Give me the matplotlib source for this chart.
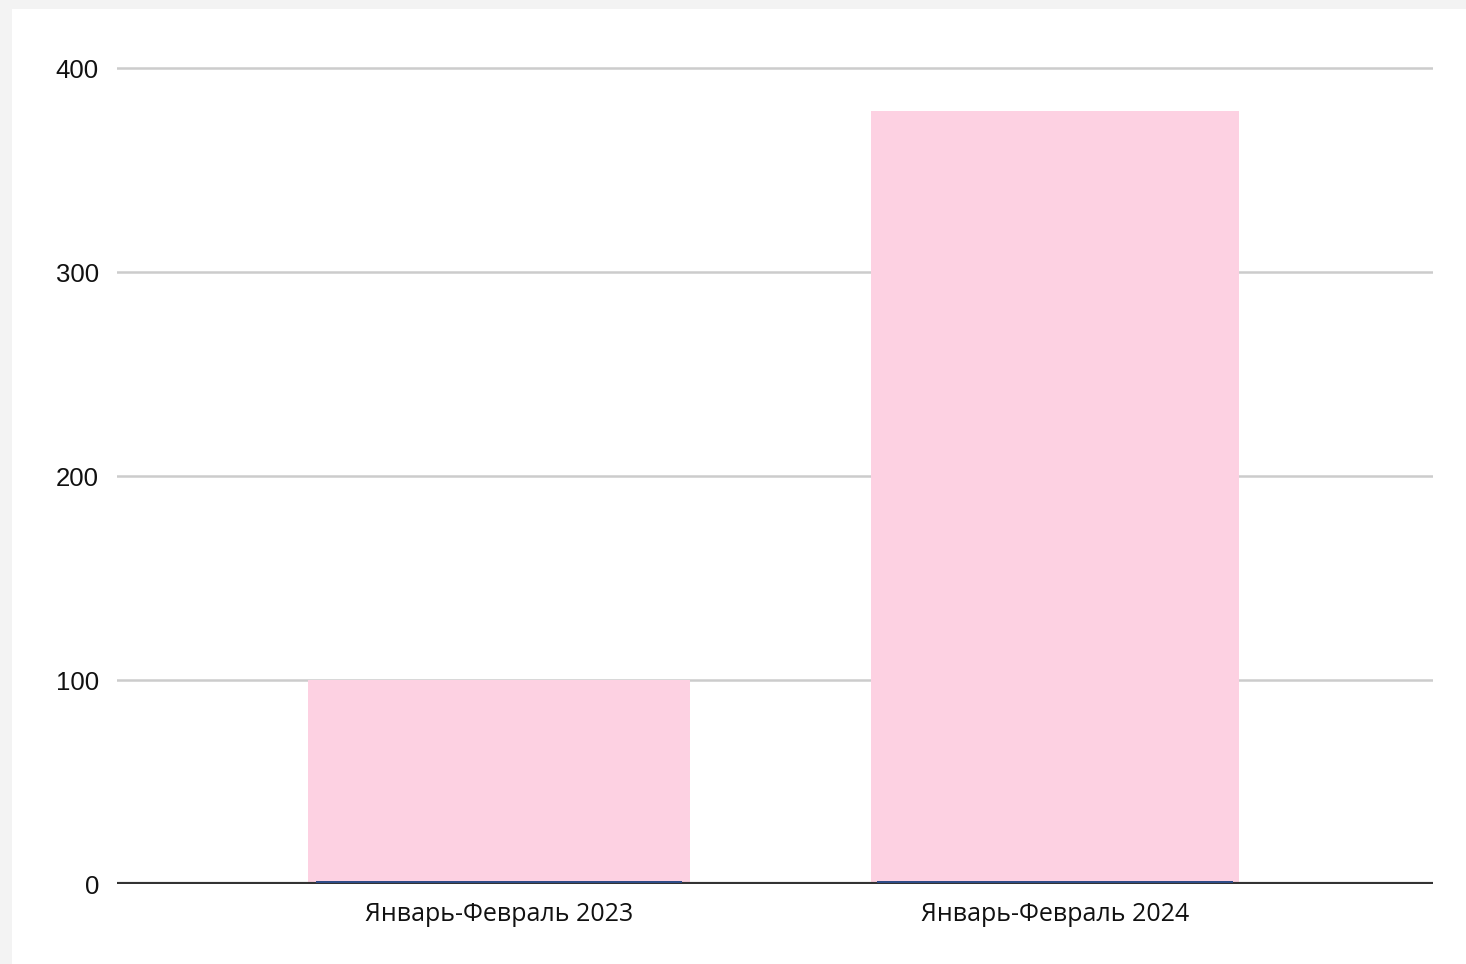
import matplotlib
matplotlib.use("Agg")
import matplotlib.pyplot as plt
from matplotlib.patches import Rectangle

categories = ["Январь-Февраль 2023", "Январь-Февраль 2024"]
values = [100, 379]
base_values = [1.0, 1.0]
yticks = [0, 100, 200, 300, 400]

W, H = 1466, 964
fig = plt.figure(figsize=(W / 100, H / 100), dpi=100, facecolor="#f3f3f3")
fig.patches.append(Rectangle((12 / W, 0), 1 - 12 / W, 1 - 9 / H,
                             transform=fig.transFigure, facecolor="white",
                             edgecolor="none", zorder=-10))

ymax = 404
top_px = 884 - ymax * (884 - 68) / 400
ax = fig.add_axes([117 / W, (H - 884) / H, (1433 - 117) / W, (884 - top_px) / H])
ax.set_facecolor("none")
ax.set_zorder(5)

pos = [0, 1]
widths = [0.687, 0.662]
ax.bar(pos, values, width=widths, color="#fdd1e2", zorder=2)
# thin second series sitting on the baseline
ax.bar(pos, base_values, bottom=0.7, width=[0.658, 0.64], color="#2f4b86", zorder=5)

ax.set_xlim(-0.687, 1.68)
ax.set_ylim(0, ymax)
ax.set_yticks(yticks)
ax.set_yticklabels([str(t) for t in yticks], fontsize=18.5,
                   family=["Liberation Sans", "DejaVu Sans"], color="#111111")
ax.set_xticks(pos)
ax.set_xticklabels(categories, fontsize=18, family=["Open Sans", "DejaVu Sans"],
                   color="#111111")
ax.tick_params(axis="both", length=0)
ax.tick_params(axis="y", pad=13)
ax.tick_params(axis="x", pad=13)

for t in yticks[1:]:
    ax.axhline(t, color="#cccccc", linewidth=1.8, zorder=1)
ax.axhline(0, color="#333333", linewidth=3, zorder=4)

for s in ax.spines.values():
    s.set_visible(False)

fig.savefig("out.png", dpi=100, facecolor=fig.get_facecolor())
